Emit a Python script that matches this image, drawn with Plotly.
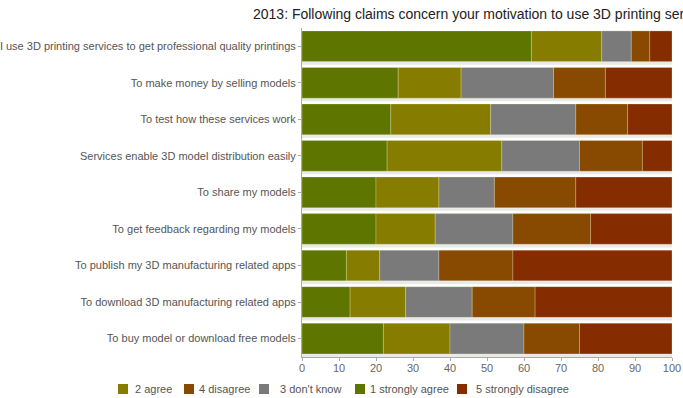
import plotly.graph_objects as go

categories = [
    "I use 3D printing services to get professional quality printings",
    "To make money by selling models",
    "To test how these services work",
    "Services enable 3D model distribution easily",
    "To share my models",
    "To get feedback regarding my models",
    "To publish my 3D manufacturing related apps",
    "To download 3D manufacturing related apps",
    "To buy model or download free models",
]

strongly_agree = [62, 26, 24, 23, 20, 20, 12, 13, 22]
agree = [19, 17, 27, 31, 17, 16, 9, 15, 18]
dont_know = [8, 25, 23, 21, 15, 21, 16, 18, 20]
disagree = [5, 14, 14, 17, 22, 21, 20, 17, 15]
strongly_disagree = [6, 18, 12, 8, 26, 22, 43, 37, 25]

series_names = ["1 strongly agree", "2 agree", "3 don't know", "4 disagree", "5 strongly disagree"]
series_values = [strongly_agree, agree, dont_know, disagree, strongly_disagree]
series_colors = ["#5e7600", "#857c00", "#7a7a7a", "#874a00", "#852d00"]

# legend order as shown in the reference
legend_order = ["2 agree", "4 disagree", "3 don't know", "1 strongly agree", "5 strongly disagree"]

title_text = "2013: Following claims concern your motivation to use 3D printing services"
x_ticks = list(range(0, 101, 10))

# layout (pixels)
W, H = 683, 398
ML, MR, MT, MB = 302, 11, 28, 41
PW, PH = W - ML - MR, H - MT - MB
BAR_W = 0.84
legend_square_px = [118, 184, 259, 355, 457]
legend_text_px = [133, 197, 278, 368, 474]
legend_y_px = 389
SQ = 10

fig = go.Figure()

# light shadow strip under each row's bar
totals = [sum(t) for t in zip(*series_values)]
fig.add_trace(go.Bar(
    y=categories, x=totals, orientation="h", showlegend=False, hoverinfo="skip",
    marker=dict(color="#e9e9e9", line=dict(width=0)),
    width=BAR_W, offset=-BAR_W / 2 + 0.085,
))

base = [0] * len(categories)
for name, vals, color in zip(series_names, series_values, series_colors):
    fig.add_trace(go.Bar(
        y=categories, x=vals, base=list(base), name=name, orientation="h",
        marker=dict(color=color, line=dict(color="rgba(255,255,200,0.35)", width=0.7)),
        width=BAR_W, offset=-BAR_W / 2, showlegend=False,
    ))
    base = [b + v for b, v in zip(base, vals)]

# custom legend (squares + labels) below the plot
color_of = dict(zip(series_names, series_colors))
shapes, annotations = [], []
for name, sx, tx in zip(legend_order, legend_square_px, legend_text_px):
    shapes.append(dict(
        type="rect", xref="paper", yref="paper",
        x0=(sx - ML) / PW, x1=(sx + SQ - ML) / PW,
        y0=(H - MB - (legend_y_px + SQ / 2)) / PH, y1=(H - MB - (legend_y_px - SQ / 2)) / PH,
        fillcolor=color_of[name], line=dict(width=0),
    ))
    annotations.append(dict(
        text=name, xref="paper", yref="paper",
        x=(tx - ML) / PW, y=(H - MB - legend_y_px) / PH,
        xanchor="left", yanchor="middle", showarrow=False,
        font=dict(size=11, color="#555555"),
    ))

fig.update_layout(
    barmode="overlay",
    width=W, height=H,
    margin=dict(l=ML, r=MR, t=MT, b=MB, autoexpand=False),
    paper_bgcolor="white", plot_bgcolor="white",
    font=dict(family="Liberation Sans, Arial, sans-serif", size=11, color="#555555"),
    title=dict(text=title_text, x=253 / W, xanchor="left", xref="container",
               y=1 - 14 / H, yanchor="middle", yref="container",
               font=dict(size=14, color="#222222")),
    showlegend=False,
    shapes=shapes,
    annotations=annotations,
)
fig.update_xaxes(range=[0, 100], tickvals=x_ticks, showgrid=False, zeroline=False,
                 showline=True, linecolor="#aaaaaa", linewidth=1,
                 ticks="outside", ticklen=3, tickcolor="#aaaaaa",
                 ticklabelstandoff=-2,
                 tickfont=dict(size=11, color="#666666"), automargin=False)
fig.update_yaxes(autorange="reversed", showgrid=False, showline=True,
                 linecolor="#aaaaaa", linewidth=1, ticks="outside", ticklen=3,
                 tickcolor="#aaaaaa", tickfont=dict(size=11, color="#555555"),
                 automargin=False)

fig.write_html("out.html", config={"displayModeBar": False},
               post_script="document.body.style.margin='0px';")
